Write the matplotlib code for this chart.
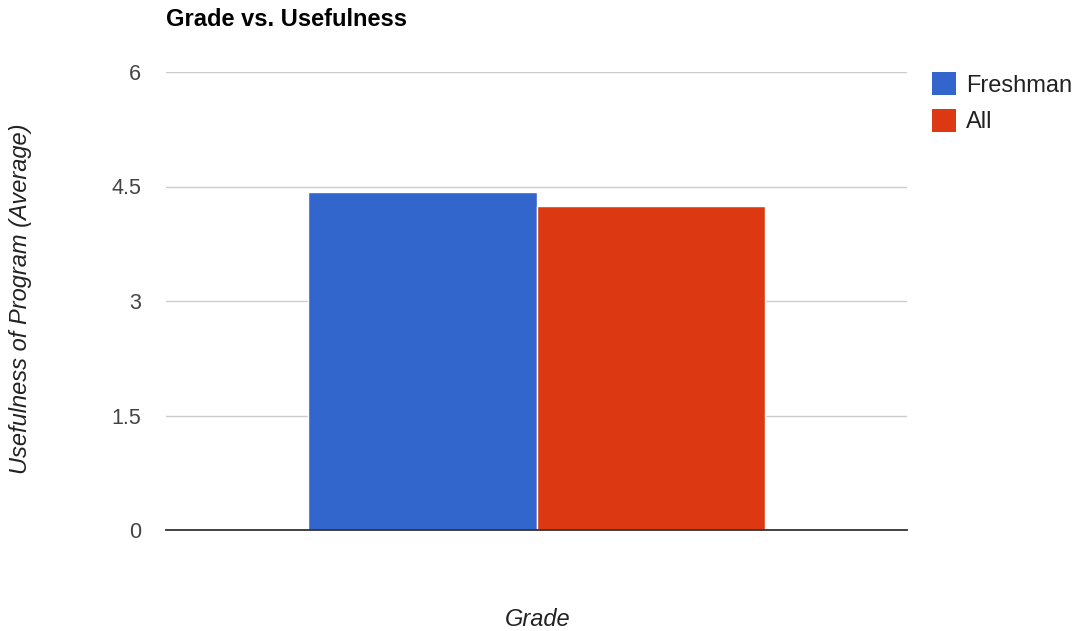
import numpy as np
import matplotlib
matplotlib.use("Agg")
import matplotlib.pyplot as plt
from matplotlib.patches import Patch

plt.rcParams['font.family'] = ['Liberation Sans', 'DejaVu Sans']

W, H = 1084, 631

series = ["Freshman", "All"]
values = [4.43, 4.25]
colors = ["#3366cc", "#dc3912"]
yticks = [0, 1.5, 3, 4.5, 6]
ytick_labels = ["0", "1.5", "3", "4.5", "6"]

fig = plt.figure(figsize=(W / 100, H / 100), dpi=100)
fig.subplots_adjust(left=166 / W, right=907 / W, bottom=1 - 530 / H, top=1 - 72 / H)
ax = fig.add_subplot(111)

width = 0.309
offsets = (np.arange(len(series)) - (len(series) - 1) / 2) * width
handles = []
for i, name in enumerate(series):
    ax.bar(offsets[i], values[i], width, color=colors[i], edgecolor="white",
           linewidth=1, zorder=3)
    handles.append(Patch(facecolor=colors[i], edgecolor="none", label=name))

ax.set_xlim(-0.5, 0.5)
ax.set_ylim(0, 6)
ax.set_xticks([])
ax.set_yticks(yticks, ytick_labels)
ax.tick_params(axis="y", length=0, pad=18, labelsize=15.5, labelcolor="#444444")
ax.yaxis.grid(True, color="#cccccc", linewidth=1, zorder=0)
for s in ["top", "right", "left"]:
    ax.spines[s].set_visible(False)
ax.spines["bottom"].set_color("#333333")
ax.spines["bottom"].set_linewidth(1.3)
ax.spines["bottom"].set_zorder(4)

fig.text(166 / W, 1 - 20 / H, "Grade vs. Usefulness", fontsize=17,
         fontweight="bold", va="center", ha="left", color="black")
fig.text(21 / W, 1 - 299 / H, "Usefulness of Program (Average)", rotation=90,
         fontsize=17, style="italic", va="center", ha="center", color="#222222")
fig.text(538 / W, 1 - 619 / H, "Grade", fontsize=17, style="italic",
         va="center", ha="center", color="#222222")

fig.legend(handles=handles, loc="upper left",
           bbox_to_anchor=(932 / W, 1 - 72 / H), frameon=False,
           fontsize=17, handlelength=1.02, handleheight=1.15,
           handletextpad=0.42, labelspacing=0.5, borderpad=0,
           borderaxespad=0, labelcolor="#222222")

fig.savefig("out.png", dpi=100)
